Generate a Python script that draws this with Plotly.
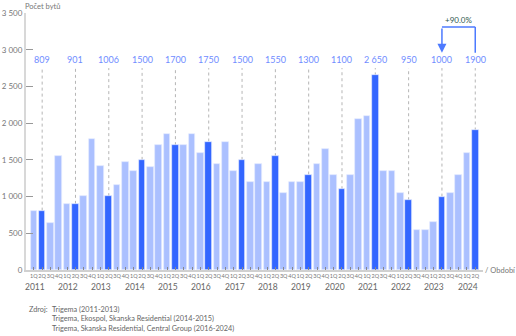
import plotly.graph_objects as go

years = list(range(2011, 2025))
quarters = ["1Q", "2Q", "3Q", "4Q"]
values = [
    810, 809, 640, 1550,
    900, 901, 1010, 1790,
    1410, 1006, 1160, 1470,
    1350, 1500, 1400, 1700,
    1850, 1700, 1700, 1850,
    1600, 1750, 1450, 1750,
    1350, 1500, 1200, 1450,
    1200, 1550, 1050, 1200,
    1200, 1300, 1450, 1650,
    1300, 1100, 1300, 2050,
    2100, 2650, 1350, 1350,
    1050, 950, 550, 550,
    650, 1000, 1050, 1300,
    1600, 1900,
]
q2_labels = ["809", "901", "1006", "1500", "1700", "1750", "1500", "1550",
             "1300", "1100", "2 650", "950", "1000", "1900"]
y_ticks = [0, 500, 1000, 1500, 2000, 2500, 3000, 3500]
y_ticktext = ["0", "500", "1 000", "1 500", "2 000", "2 500", "3 000", "3 500"]
change_text = "+90.0%"
source_lines = ["Trigema (2011-2013)",
                "Trigema, Ekospol, Skanska Residential (2014-2015)",
                "Trigema, Skanska Residential, Central Group (2016-2024)"]

n = len(values)
xs = list(range(n))
qlabels = [quarters[i % 4] for i in xs]
LIGHT = "#abc0ff"
DARK = "#3366ff"
colors = [DARK if i % 4 == 1 else LIGHT for i in xs]
FONT = "Lato"
GREY = "#777777"

fig = go.Figure()
fig.add_trace(go.Bar(x=xs, y=values, width=0.8, marker=dict(color=colors, line=dict(color="#e4ebff", width=0.7)),
                     hoverinfo="skip"))

LABEL_Y = 2860
q2_idx = [i for i in xs if i % 4 == 1]
for lab, i in zip(q2_labels, q2_idx):
    fig.add_annotation(x=i, y=LABEL_Y, text=lab, showarrow=False, yanchor="middle",
                       font=dict(family=FONT, size=9, color="#6f8cff"))
    fig.add_shape(type="line", x0=i, x1=i, y0=values[i], y1=LABEL_Y - 110,
                  line=dict(color="#b5b5b5", width=1, dash="dot"), layer="below")

# change bracket between last two Q2 bars
a, b = q2_idx[-2], q2_idx[-1]
top_y, low_y = 3310, 2960
BR = "#4d7aff"
fig.add_shape(type="line", x0=a, x1=b, y0=top_y, y1=top_y, line=dict(color=BR, width=1.5))
fig.add_shape(type="line", x0=b, x1=b, y0=top_y, y1=low_y, line=dict(color=BR, width=1.5))
fig.add_annotation(x=a, y=low_y, ax=a, ay=top_y, axref="x", ayref="y", xref="x", yref="y",
                   showarrow=True, arrowhead=2, arrowsize=1.2, arrowwidth=1.5, arrowcolor=BR, text="")
fig.add_annotation(x=(a + b) / 2, y=top_y, text=change_text, showarrow=False, yanchor="bottom", yshift=0,
                   font=dict(family=FONT, size=8, color="#2f5a50"))

# year labels
for k, yr in enumerate(years):
    fig.add_annotation(x=4 * k + 0.1, y=0, xref="x", yref="paper", yshift=-10, yanchor="top",
                       text=str(yr), showarrow=False, font=dict(family=FONT, size=8.5, color="#666666"))

fig.add_annotation(x=-0.006, y=1, xref="paper", yref="paper", xanchor="left", yanchor="bottom", yshift=0,
                   text="Počet bytů", showarrow=False, font=dict(family=FONT, size=7.5, color=GREY))
fig.add_annotation(x=1, y=0, xref="paper", yref="paper", xanchor="left", yanchor="middle", xshift=0,
                   text="/ Období", showarrow=False, font=dict(family=FONT, size=7.5, color=GREY))

# source text (pixel rows converted to paper coords)
def py(px):
    return (270 - px) / 257

fig.add_annotation(x=(27 - 26) / 457, y=py(309), xref="paper", yref="paper", xanchor="left", yanchor="middle",
                   text="Zdroj:", showarrow=False, font=dict(family=FONT, size=7.3, color="#666666"))
for j, line in enumerate(source_lines):
    fig.add_annotation(x=(50 - 26) / 457, y=py(309 + 9.5 * j), xref="paper", yref="paper", xanchor="left",
                       yanchor="middle", text=line, showarrow=False,
                       font=dict(family=FONT, size=7.3, color="#666666"))

fig.update_layout(
    width=516, height=336, margin=dict(l=26, r=33, t=13, b=66),
    plot_bgcolor="white", paper_bgcolor="white", showlegend=False, bargap=0,
    font=dict(family=FONT, color=GREY),
)
fig.update_xaxes(range=[-0.94, 53.93], tickvals=xs, ticktext=qlabels, tickangle=0, automargin=False,
                 tickfont=dict(family=FONT, size=5.5, color=GREY), ticks="inside", ticklen=3,
                 tickcolor="#888888", showline=True, linecolor="#d0d0d0", linewidth=1.5,
                 showgrid=False, zeroline=False, fixedrange=True)
fig.update_yaxes(range=[0, 3500], tickvals=y_ticks, ticktext=y_ticktext, automargin=False,
                 tickfont=dict(family=FONT, size=8, color=GREY), ticks="inside", ticklen=7,
                 tickcolor="#999999", showline=True, linecolor="#d8d8d8", linewidth=2,
                 showgrid=False, zeroline=False, fixedrange=True)

fig.write_html("out.html")
